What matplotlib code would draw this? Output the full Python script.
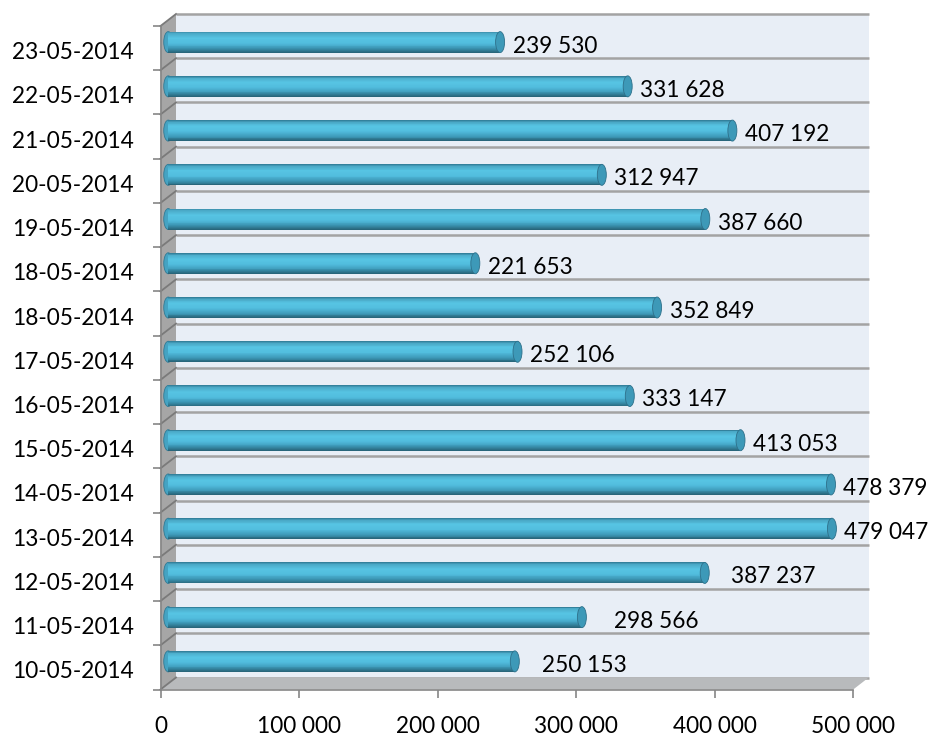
import matplotlib
matplotlib.use("Agg")
import matplotlib.pyplot as plt
import numpy as np
from matplotlib.patches import Polygon, Rectangle, Ellipse
from matplotlib.colors import LinearSegmentedColormap
from matplotlib.transforms import ScaledTranslation

plt.rcParams['font.family'] = ['Lato', 'DejaVu Sans']

# ---- data (bottom to top) ----
dates = ['10-05-2014', '11-05-2014', '12-05-2014', '13-05-2014', '14-05-2014',
         '15-05-2014', '16-05-2014', '17-05-2014', '18-05-2014', '18-05-2014',
         '19-05-2014', '20-05-2014', '21-05-2014', '22-05-2014', '23-05-2014']
values = [250153, 298566, 387237, 479047, 478379,
          413053, 333147, 252106, 352849, 221653,
          387660, 312947, 407192, 331628, 239530]
x_ticks = [0, 100000, 200000, 300000, 400000, 500000]
label_extra_px = [15, 20, 14, 0, 0, 0, 0, 0, 0, 0, 0, 0, 0, 0, 0]

def fmt(v):
    return f"{v:,}".replace(",", " ")

W, H = 931, 736
fig = plt.figure(figsize=(W / 100, H / 100), dpi=100)
fig.patch.set_facecolor('white')

x0_px, x1_px = 160.5, 853.2
ytop_px, ybot_px = 26.0, 689.5
ax = fig.add_axes([x0_px / W, (H - ybot_px) / H, (x1_px - x0_px) / W, (ybot_px - ytop_px) / H])
ax.set_facecolor('none')
XMAX = 500000
n = len(values)
ax.set_xlim(0, XMAX)
ax.set_ylim(-0.5, n - 0.5)

# depth offset (pixels -> data)
DX, DY = 15.5, 12.0
dxd = DX * XMAX / (x1_px - x0_px)
dyd = DY * n / (ybot_px - ytop_px)

grid_c = '#a3a3a3'
axis_c = '#868686'

# back wall
ax.add_patch(Rectangle((dxd, -0.5 + dyd), XMAX, n, facecolor='#e8eef6',
                       edgecolor='none', clip_on=False, zorder=0))
bounds = np.arange(-0.5, n, 1.0)
for b in bounds:
    ax.plot([dxd, XMAX + dxd], [b + dyd, b + dyd], color=grid_c, lw=1.8,
            clip_on=False, zorder=1, solid_capstyle='butt')

# floor
ax.add_patch(Polygon([(0, -0.5), (XMAX, -0.5), (XMAX + dxd, -0.5 + dyd), (dxd, -0.5 + dyd)],
                     closed=True, facecolor='#b8babc', edgecolor='none', clip_on=False, zorder=1))
# left wall
ax.add_patch(Polygon([(0, -0.5), (0, n - 0.5), (dxd, n - 0.5 + dyd), (dxd, -0.5 + dyd)],
                     closed=True, facecolor='#a6a6a6', edgecolor='none', clip_on=False, zorder=1))
for b in bounds:
    ax.plot([0, dxd], [b, b + dyd], color='#7a7a7a', lw=1.3, clip_on=False, zorder=2)

# bars (cylinders at mid depth)
cmap = LinearSegmentedColormap.from_list('cyl', [
    (0.00, (0.18, 0.47, 0.57)),
    (0.10, (0.29, 0.66, 0.78)),
    (0.30, (0.34, 0.77, 0.89)),
    (0.55, (0.32, 0.74, 0.87)),
    (0.78, (0.24, 0.60, 0.72)),
    (1.00, (0.15, 0.38, 0.46)),
])
bar_h = 21.0 * n / (ybot_px - ytop_px)
ypos = np.arange(n) + dyd / 2
ew = 9.0 * XMAX / (x1_px - x0_px)

for i, v in enumerate(values):
    ax.add_patch(Ellipse((dxd / 2, ypos[i]), ew, bar_h, facecolor=(0.27, 0.64, 0.76),
                         edgecolor=(0.20, 0.48, 0.58), lw=0.6, zorder=3))

N = 24
sh = bar_h / N
for k in range(N):
    t = (k + 0.5) / N
    yk = ypos + bar_h / 2 - (k + 0.5) * sh
    ax.barh(yk, values, height=sh * 1.02, left=dxd / 2, color=cmap(t),
            linewidth=0, antialiased=False, zorder=4)

for i, v in enumerate(values):
    ax.add_patch(Ellipse((v + dxd / 2, ypos[i]), ew, bar_h, facecolor=(0.24, 0.60, 0.72),
                         edgecolor=(0.18, 0.44, 0.54), lw=0.6, zorder=5))
    ax.annotate(fmt(v), xy=(v + dxd / 2, ypos[i]), xycoords='data',
                xytext=(ew / 2 * (x1_px - x0_px) / XMAX + 8 + label_extra_px[i], -4),
                textcoords='offset pixels', ha='left', va='center',
                fontsize=16.3, color='black', zorder=6, annotation_clip=False)

# axes styling
for s in ['top', 'right']:
    ax.spines[s].set_visible(False)
for s in ['left', 'bottom']:
    ax.spines[s].set_color(axis_c)
    ax.spines[s].set_linewidth(1.2)
    ax.spines[s].set_zorder(7)

ax.set_xticks(x_ticks)
ax.set_xticklabels([fmt(t) for t in x_ticks])
ax.tick_params(axis='x', direction='out', length=5.8, width=1.2, color=axis_c,
               labelsize=16.3, pad=13)
ax.set_yticks(bounds)
ax.set_yticklabels([])
ax.tick_params(axis='y', which='major', direction='out', length=5.8, width=1.2, color=axis_c)
ax.set_yticks(np.arange(n), minor=True)
ax.set_yticklabels(dates, minor=True)
ax.tick_params(axis='y', which='minor', length=0, labelsize=16.3, pad=19)
shift = ScaledTranslation(0, -2.5 / 100, fig.dpi_scale_trans)
for lbl in ax.get_yticklabels(minor=True):
    lbl.set_transform(lbl.get_transform() + shift)

fig.savefig('out.png', dpi=100, facecolor='white')
